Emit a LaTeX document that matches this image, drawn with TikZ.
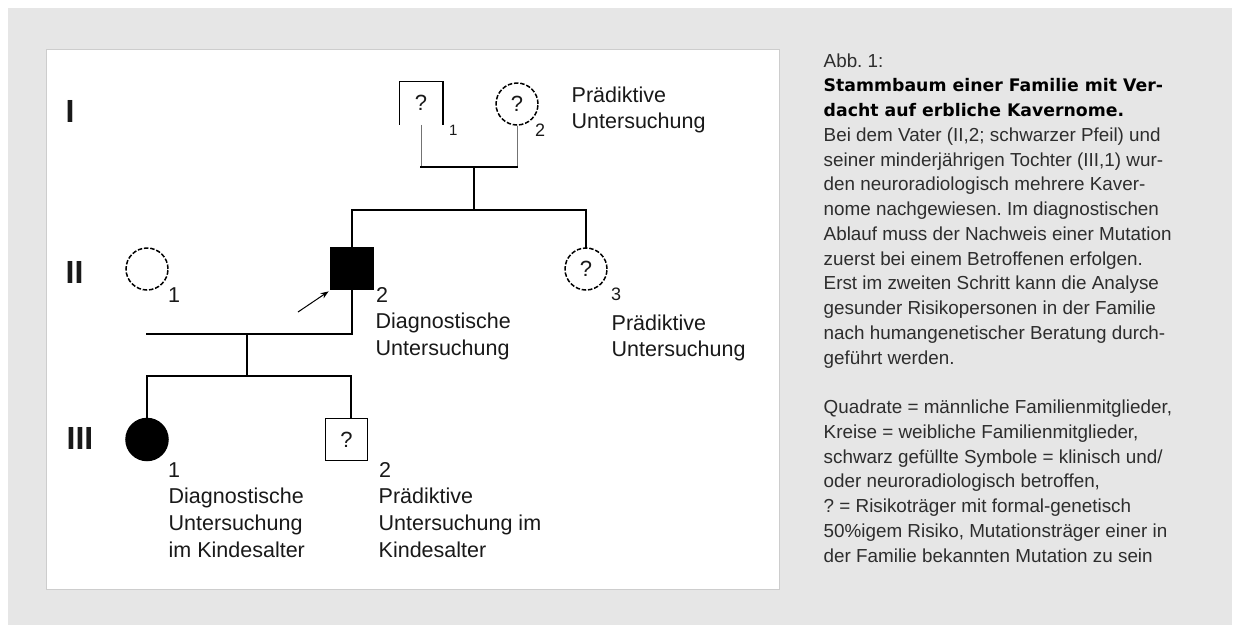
\documentclass[tikz,border=0pt]{standalone}
\usepackage{fontspec}
\setmainfont{Liberation Sans}
\newfontfamily\titlefont{DejaVu Sans}
\usetikzlibrary{arrows.meta}
\definecolor{bggray}{RGB}{230,230,230}
\definecolor{panelline}{RGB}{205,205,205}
\definecolor{captext}{RGB}{45,45,45}
\definecolor{pedtext}{RGB}{25,25,25}
\frenchspacing
\begin{document}
\begin{tikzpicture}[x=1pt,y=-1pt,
  conn/.style={line width=1.5pt, line cap=rect},
  thinconn/.style={line width=1pt, draw=black!55},
  sym/.style={draw, line width=1.5pt, minimum size=42pt, inner sep=0pt,
    font=\fontsize{22}{22}\selectfont, text=pedtext},
  male/.style={sym, rectangle},
  female/.style={sym, circle},
  risk/.style={dash pattern=on 4.5pt off 1.8pt},
  affected/.style={fill=black},
  lab/.style={anchor=base west, inner sep=0pt, text=pedtext,
    font=\fontsize{21.5}{26}\selectfont},
  gen/.style={anchor=base west, inner sep=0pt, text=pedtext,
    font=\fontsize{32}{32}\selectfont\bfseries},
  captxt/.style={anchor=base west, inner sep=0pt, text=captext,
    font=\fontsize{18.85}{24}\selectfont},
  captitle/.style={anchor=base west, inner sep=0pt, text=black,
    font=\fontsize{17.3}{24}\selectfont\titlefont\bfseries},
]
\useasboundingbox (0,0) rectangle (1235,625);
% backgrounds
\fill[bggray] (8,8) rectangle (1232,625);
\filldraw[fill=white, draw=panelline, line width=0.8pt] (46,49) rectangle (779,589);

% generation labels
\node[gen] (gI) at (65.5,122) {I};
\node[gen] (gII) at (65.5,283) {II};
\node[gen] (gIII) at (66.5,449) {III};

% persons
\node[male, draw=none] (i1) at (421,103) {?};
\draw[line width=1.5pt] (i1.south west) -- (i1.north west) -- (i1.north east) -- (i1.south east);
\node[female, risk] (i2) at (517,104) {?};
\node[female, risk] (ii1) at (147,269) {};
\node[male, affected] (ii2) at (352,268.5) {};
\node[female, risk] (ii3) at (586,269) {?};
\node[female, affected] (iii1) at (147,439.5) {};
\node[male] (iii2) at (346.5,439.5) {?};

% junction coordinates
\coordinate (m1) at (474,167);
\coordinate (s1) at (474,210);
\coordinate (m2) at (247,334);
\coordinate (s2) at (247,376);
\coordinate (s2r) at (351,376);
\coordinate (arr) at (298,312);

% connectors
\draw[thinconn] (i1.south) -- (i1.south |- m1);
\draw[thinconn] (i2.south) -- (i2.south |- m1);
\draw[conn] (i1.south |- m1) -- (i2.south |- m1);
\draw[conn] (m1) -- (s1);
\draw[conn] (ii2.north) -- (ii2.north |- s1) -- (ii3.north |- s1) -- (ii3.north);
\draw[conn] (ii2.south) -- (ii2.south |- m2) -- (ii1.center |- m2);
\draw[conn] (m2) -- (s2);
\draw[conn] (iii1.north) -- (iii1.north |- s2) -- (s2r) -- (s2r |- iii2.north);
\draw[line width=1pt, -{Stealth[length=8pt,width=6pt]}, shorten >=2pt] (arr) -- (ii2.south west);

% numbers
\node[lab, font=\fontsize{15}{15}\selectfont] (ni1) at (449,135) {1};
\node[lab, font=\fontsize{18}{18}\selectfont] (ni2) at (535,136) {2};
\node[lab] (nii1) at (168,302) {1};
\node[lab] (nii2) at (376,302) {2};
\node[lab, font=\fontsize{18}{18}\selectfont] (nii3) at (611,300) {3};
\node[lab] (niii1) at (168,477) {1};
\node[lab] (niii2) at (379,477) {2};

% pedigree texts
\node[lab] (ti2a) at (571.5,102) {Prädiktive};
\node[lab] (ti2b) at (571.5,128) {Untersuchung};
\node[lab] (tii2a) at (375.5,328) {Diagnostische};
\node[lab] (tii2b) at (375.5,355) {Untersuchung};
\node[lab] (tii3a) at (611.5,330) {Prädiktive};
\node[lab] (tii3b) at (611.5,356) {Untersuchung};
\node[lab] (tiii1a) at (168.5,503) {Diagnostische};
\node[lab] (tiii1b) at (168.5,530) {Untersuchung};
\node[lab] (tiii1c) at (168.5,557) {im Kindesalter};
\node[lab] (tiii2a) at (378.5,503) {Prädiktive};
\node[lab] (tiii2b) at (378.5,530) {Untersuchung im};
\node[lab] (tiii2c) at (378.5,557) {Kindesalter};

% caption
\node[captxt] (c0) at (823.5,67) {Abb. 1:};
\node[captitle] (c1) at (823.5,91.75) {Stammbaum einer Familie mit Ver-};
\node[captitle] (c2) at (823.5,116.5) {dacht auf erbliche Kavernome.};
\foreach \k/\t in {
  3/{Bei dem Vater (II,2; schwarzer Pfeil) und},
  4/{seiner minderjährigen Tochter (III,1) wur-},
  5/{den neuroradiologisch mehrere Kaver-},
  6/{nome nachgewiesen. Im diagnostischen},
  7/{Ablauf muss der Nachweis einer Mutation},
  8/{zuerst bei einem Betroffenen erfolgen.},
  9/{Erst im zweiten Schritt kann die Analyse},
  10/{gesunder Risikopersonen in der Familie},
  11/{nach humangenetischer Beratung durch-},
  12/{geführt werden.},
  14/{Quadrate = männliche Familienmitglieder,},
  15/{Kreise = weibliche Familienmitglieder,},
  16/{schwarz gefüllte Symbole = klinisch und/},
  17/{oder neuroradiologisch betroffen,},
  18/{? = Risikoträger mit formal-genetisch},
  19/{50\%igem Risiko, Mutationsträger einer in},
  20/{der Familie bekannten Mutation zu sein}}
  \node[captxt] (c\k) at (823.5,67+24.75*\k) {\t};
\end{tikzpicture}
\end{document}
